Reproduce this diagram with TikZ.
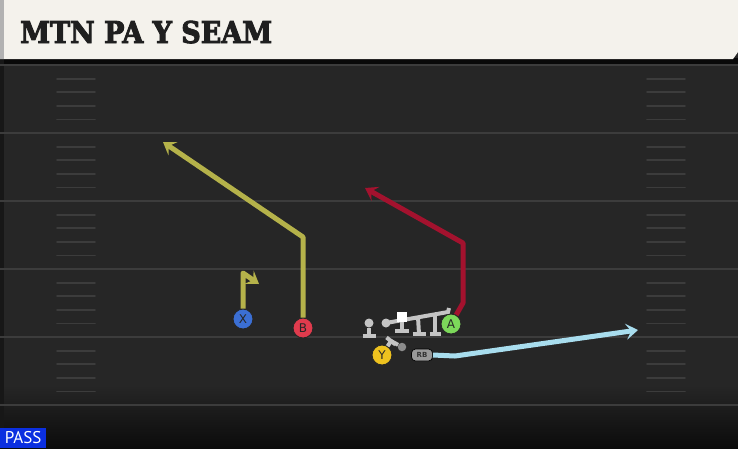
\documentclass[tikz,border=0pt]{standalone}
\usepackage{fontspec}
\setmainfont{DejaVu Sans}
\newfontfamily\titlefont[BoldFeatures={FakeBold=3}]{DejaVu Serif Condensed}
\newfontfamily\passfont{PT Sans}
\usetikzlibrary{arrows.meta,calc}
\definecolor{field}{HTML}{262626}
\definecolor{fieldline}{HTML}{3C3C3C}
\definecolor{cream}{HTML}{F4F2EC}
\definecolor{yelroute}{HTML}{B5B24A}
\definecolor{redroute}{HTML}{A3122E}
\definecolor{blueroute}{HTML}{A8DDEE}
\definecolor{xblue}{HTML}{3B6FD4}
\definecolor{bred}{HTML}{E03B4D}
\definecolor{agreen}{HTML}{7CD85A}
\definecolor{yyellow}{HTML}{EEC21F}
\definecolor{olgray}{HTML}{C4C4C4}
\definecolor{passblue}{HTML}{0B2FE0}
\tikzset{
  fline/.style={draw=fieldline, line width=2.2pt},
  hashmark/.style={draw=fieldline, line width=1.8pt, line cap=round},
  route/.style={line width=5pt, line join=round, -{Stealth[length=12pt,width=16pt,inset=5pt]}},
  player/.style={circle, draw=black!85, line width=0.9pt, minimum size=20pt, inner sep=0pt,
    text=black!85, font=\fontsize{12}{12}\selectfont},
  oldot/.style={circle, fill=olgray, minimum size=9pt, inner sep=0pt},
  olline/.style={draw=olgray, line width=4pt},
  olbase/.style={draw=olgray, line width=4.5pt},
}
\begin{document}
\begin{tikzpicture}[x=1pt,y=-1pt]
\useasboundingbox (0,0) rectangle (738,448);
% field
\fill[field] (0,0) rectangle (738,448);
\shade[top color=field, bottom color=black!70!field] (0,385) rectangle (738,448);
\fill[black!75!field] (0,58) rectangle (738,65);
\fill[black!40!field] (0,0) rectangle (4,448);
\foreach \y in {65,133,201,269,337,405} \draw[fline] (0,\y) -- (738,\y);
\foreach \b in {65,133,201,269,337} \foreach \k in {1,2,3,4} {
  \draw[hashmark] (57,\b+13.6*\k) -- (95,\b+13.6*\k);
  \draw[hashmark] (647,\b+13.6*\k) -- (685,\b+13.6*\k);
}
% header
\fill[cream] (0,0) -- (738,0) -- (738,52) -- (733,59) -- (0,59) -- cycle;
\fill[black!30] (0,0) rectangle (4,59);
\node[anchor=base west, inner sep=0pt, text=black!88, font=\titlefont\bfseries\fontsize{30}{30}\selectfont] (title) at (20,43) {MTN PA Y SEAM};
% players
\node[player, fill=xblue] (X) at (243,319) {X};
\node[player, fill=bred] (B) at (303,328) {B};
\node[player, fill=agreen] (A) at (451,324) {A};
\node[player, fill=yyellow] (Y) at (382,355) {Y};
\node[rounded corners=4pt, fill=black!40, draw=black, line width=0.7pt, minimum width=21pt, minimum height=12pt, inner sep=0pt,
  text=black!80, font=\fontsize{7}{7}\selectfont\bfseries] (RB) at (422,355) {RB};
% routes
\coordinate (x1) at (243,273); \coordinate (x2) at (259,284);
\coordinate (b1) at (303,237); \coordinate (b2) at (163,142);
\coordinate (a1) at (463,303); \coordinate (a2) at (463,243); \coordinate (a3) at (365,188);
\coordinate (r1) at (455,356); \coordinate (r2) at (638,330);
\draw[route, yelroute] (X) -- (x1) -- (x2);
\draw[route, yelroute] (B) -- (b1) -- (b2);
\draw[route, redroute] (A) -- (a1) -- (a2) -- (a3);
\draw[route, blueroute] (RB.east) -- (r1) -- (r2);
% offensive line
\node[oldot] (LT) at (369,323) {};
\coordinate (LTb) at (369,336);
\draw[olline] (LT) -- (LTb);
\draw[olbase] ($(LTb)+(-6.5,0)$) -- ($(LTb)+(6.5,0)$);
\node[oldot] (LG) at (386,323) {};
\coordinate (barend) at (448,312);
\draw[olline] (LG.center) -- (barend) -- ++(1,-4);
\coordinate (Ct) at (402,320); \coordinate (Cb) at (402,331);
\coordinate (RGt) at (418,317); \coordinate (RGb) at (419,334);
\coordinate (RTt) at (435,314); \coordinate (RTb) at (435,334);
\draw[olline] (Ct) -- (Cb);
\draw[olbase] ($(Cb)+(-7,0)$) -- ($(Cb)+(7,0)$);
\draw[olline] (RGt) -- (RGb);
\draw[olbase] ($(RGb)+(-6.5,0)$) -- ($(RGb)+(6.5,0)$);
\draw[olline] (RTt) -- (RTb);
\draw[olbase] ($(RTb)+(-5.5,0)$) -- ($(RTb)+(5.5,0)$);
\node[fill=white, minimum size=10pt, inner sep=0pt] (C) at (402,317) {};
\node[player, fill=agreen] (A2) at (451,324) {A};
% Y block
\coordinate (yb) at (391,341);
\node[circle, fill=black!45, minimum size=8.5pt, inner sep=0pt] (yd) at (402,347) {};
\draw[olline] (Y) -- (yb);
\draw[olline] (yb) -- (yd);
\draw[olline] ($(yb)+(-4.5,-3.5)$) -- ($(yb)+(4.5,3.5)$);
% pass label
\node[anchor=south west, fill=passblue, text=white, minimum width=46pt, minimum height=20pt, inner sep=0pt,
  font=\passfont\fontsize{17}{17}\selectfont] (pass) at (0,448) {PASS};
\end{tikzpicture}
\end{document}
